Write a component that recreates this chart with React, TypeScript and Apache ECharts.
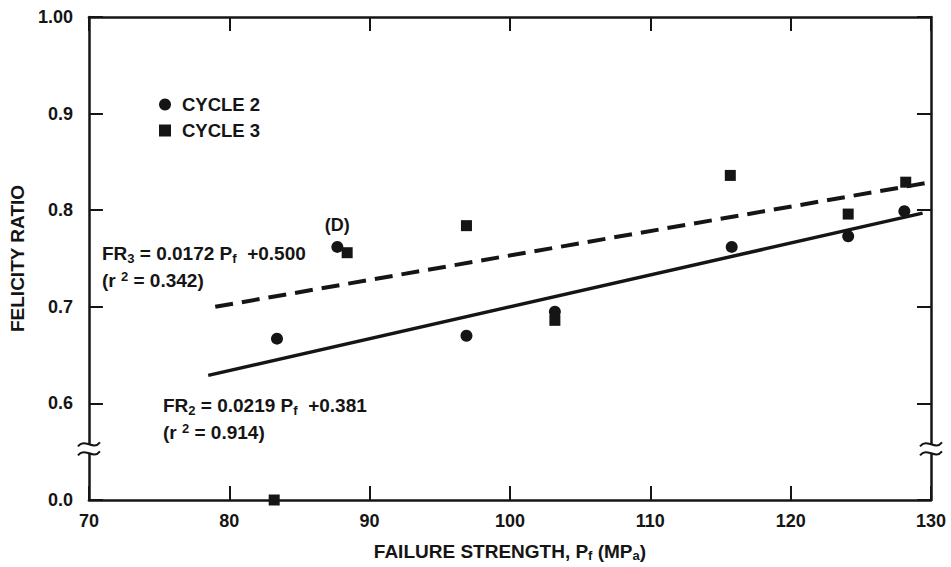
import React, { useEffect, useRef } from "react";
import * as echarts from "echarts";

// Failure strength (MPa) and felicity ratio
const cycle2X = [83.4, 87.7, 96.9, 103.2, 115.8, 124.1, 128.1];
const cycle2Y = [0.667, 0.762, 0.670, 0.695, 0.762, 0.773, 0.799];
const cycle3X = [83.2, 88.4, 96.9, 103.2, 115.7, 124.1, 128.2];
const cycle3Y = [0.0, 0.756, 0.784, 0.686, 0.836, 0.796, 0.829];
// regression line end points
const fit2X = [78.5, 129.4];
const fit2Y = [0.629, 0.797];
const fit3X = [79.0, 130.0];
const fit3Y = [0.7, 0.829];
const dPointIndex = 1; // "(D)" point of cycle 2
const xTicks = [70, 80, 90, 100, 110, 120, 130];
const yTickLabels: Record<string, string> = { "0.5": "0.0", "0.6": "0.6", "0.7": "0.7", "0.8": "0.8", "0.9": "0.9", "1.0": "1.00" };

const FONT = "'Liberation Sans', Arial, Helvetica, sans-serif";
const INK = "#151515";

// broken axis: values below the break (0.0) are drawn at the 0.5 level
const toAxis = (v: number) => (v < 0.5 ? v + 0.5 : v);

export default function App() {
  const ref = useRef<HTMLDivElement>(null);
  useEffect(() => {
    document.body.style.margin = "0";
    const chart = echarts.init(ref.current!, undefined, { renderer: "svg" });
    const axisCommon = {
      type: "value" as const,
      axisLine: { show: true, lineStyle: { color: INK, width: 2.5 } },
      axisTick: { show: true, inside: true, length: 14, lineStyle: { color: INK, width: 2 } },
      splitLine: { show: false },
    };
    const labelStyle = { color: INK, fontSize: 18, fontFamily: FONT, fontWeight: "bold" as const };
    chart.setOption({
      animation: false,
      backgroundColor: "#ffffff",
      grid: { left: 87, right: 20, top: 17, bottom: 65, containLabel: false },
      legend: {
        orient: "vertical",
        left: 154,
        top: 90,
        itemWidth: 24,
        itemHeight: 12,
        itemGap: 7,
        symbolKeepAspect: true,
        textStyle: { ...labelStyle, fontSize: 18.5 },
        data: [
          { name: "CYCLE 2", icon: "circle", itemStyle: { color: INK, opacity: 1 } },
          { name: "CYCLE 3", icon: "path://M0,0H10V10H0Z", itemStyle: { color: INK, opacity: 1 } },
        ],
      },
      xAxis: [
        {
          ...axisCommon,
          position: "bottom",
          min: xTicks[0],
          max: xTicks[xTicks.length - 1],
          interval: 10,
          axisLabel: { ...labelStyle, margin: 12 },
          name: "FAILURE STRENGTH, P{s|f} (MP{s|a})",
          nameLocation: "middle",
          nameGap: 41,
          nameTextStyle: {
            ...labelStyle,
            fontSize: 19,
            rich: {
              s: { fontSize: 13, fontFamily: FONT, fontWeight: "bold", color: INK, verticalAlign: "bottom", padding: [8, 0, 0, 0] },
            },
          },
        },
        {
          ...axisCommon,
          position: "top",
          min: xTicks[0],
          max: xTicks[xTicks.length - 1],
          interval: 10,
          axisLabel: { show: false },
        },
      ],
      yAxis: [
        {
          ...axisCommon,
          position: "left",
          min: 0.5,
          max: 1.0,
          interval: 0.1,
          axisLabel: {
            ...labelStyle,
            margin: 16,
            formatter: (v: number) => yTickLabels[v.toFixed(1)] ?? v.toFixed(1),
          },
          name: "FELICITY RATIO",
          nameLocation: "middle",
          nameRotate: 90,
          nameGap: 59,
          nameTextStyle: { ...labelStyle, fontSize: 19 },
        },
        {
          ...axisCommon,
          position: "right",
          min: 0.5,
          max: 1.0,
          interval: 0.1,
          axisLabel: { show: false },
        },
      ],
      series: [
        {
          name: "CYCLE 2",
          type: "scatter",
          symbol: "circle",
          symbolSize: 12,
          itemStyle: { color: INK, opacity: 1 },
          z: 5,
          data: cycle2X.map((x, i) =>
            i === dPointIndex
              ? {
                  value: [x, toAxis(cycle2Y[i])],
                  label: { show: true, position: "top", distance: 7, formatter: "(D)", ...labelStyle, fontSize: 18, color: INK },
                }
              : [x, toAxis(cycle2Y[i])]
          ),
        },
        {
          name: "CYCLE 3",
          type: "scatter",
          symbol: "rect",
          symbolSize: 11,
          itemStyle: { color: INK, opacity: 1 },
          z: 5,
          data: cycle3X.map((x, i) => [x, toAxis(cycle3Y[i])]),
        },
        {
          name: "FR2 fit",
          type: "line",
          showSymbol: false,
          silent: true,
          lineStyle: { color: INK, width: 3.5, type: "solid" },
          data: fit2X.map((x, i) => [x, fit2Y[i]]),
        },
        {
          name: "FR3 fit",
          type: "line",
          showSymbol: false,
          silent: true,
          lineStyle: { color: INK, width: 4, type: [18, 9] },
          data: fit3X.map((x, i) => [x, fit3Y[i]]),
        },
      ],
    });

    // annotations and axis-break marks
    const eqRich = {
      sub: { fontSize: 13, fontFamily: FONT, fontWeight: "bold", color: INK, padding: [10, 0, 0, 0] },
      sup: { fontSize: 13, fontFamily: FONT, fontWeight: "bold", color: INK, padding: [0, 0, 7, 0] },
    };
    const eqStyle = { fill: INK, font: `bold 19px ${FONT}`, rich: eqRich, verticalAlign: "middle" as const };
    const graphics: any[] = [
      { type: "text", x: 102, y: 253, style: { ...eqStyle, text: "FR{sub|3} = 0.0172 P{sub|f}  +0.500" } },
      { type: "text", x: 102, y: 280, style: { ...eqStyle, text: "(r {sup|2} = 0.342)" } },
      { type: "text", x: 163, y: 405, style: { ...eqStyle, text: "FR{sub|2} = 0.0219 P{sub|f}  +0.381" } },
      { type: "text", x: 163, y: 432, style: { ...eqStyle, text: "(r {sup|2} = 0.914)" } },
    ];
    const breakLevel = 0.553;
    [70, 130].forEach((xv) => {
      const p = chart.convertToPixel({ gridIndex: 0 }, [xv, breakLevel]) as number[];
      const cx = p[0];
      const cy = p[1];
      graphics.push({ type: "rect", shape: { x: cx - 3, y: cy - 4, width: 6, height: 8 }, style: { fill: "#fff" }, z: 100 });
      [-4.5, 4.5].forEach((dy) => {
        graphics.push({
          type: "bezierCurve",
          z: 101,
          shape: {
            x1: cx - 11, y1: cy + dy + 2,
            cpx1: cx - 4, cpy1: cy + dy - 7,
            cpx2: cx + 4, cpy2: cy + dy + 7,
            x2: cx + 11, y2: cy + dy - 2,
          },
          style: { stroke: INK, lineWidth: 2, fill: "none" },
        });
      });
    });
    chart.setOption({ graphic: graphics });

    return () => chart.dispose();
  }, []);
  return <div ref={ref} style={{ width: 951, height: 567 }} />;
}
